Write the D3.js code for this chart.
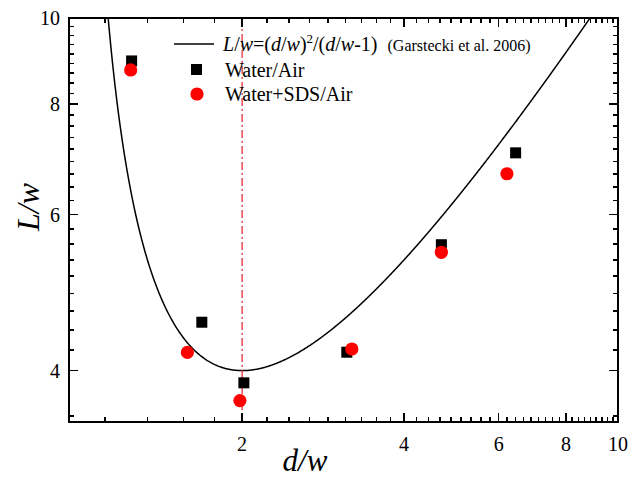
<!DOCTYPE html>
<html>
<head>
<meta charset="utf-8">
<script src="https://cdn.jsdelivr.net/npm/d3@7"></script>
<style>
body{margin:0;background:#fff;}
svg text{font-family:"Liberation Serif","DejaVu Serif",serif;}
</style>
</head>
<body>
<script>
// measured points
var waterX=[1.246,1.683,2.015,3.131,4.694,6.451];
var waterY=[8.944,4.536,3.875,4.196,5.548,7.044];
var sdsX=[1.241,1.582,1.981,3.199,4.694,6.215];
var sdsY=[8.737,4.194,3.700,4.231,5.440,6.672];

var xTicks=[2,4,6,8,10];
var yTicks=[4,6,8,10];
var xDomain=[0.953,10];
var yDomain=[3.5,10];
var critical=2;

var W=641,H=477;
var mLeft=69,mRight=618,mTop=18,mBottom=422;
var serif='"Liberation Serif","DejaVu Serif",serif';

var svg=d3.select('body').append('svg').attr('width',W).attr('height',H);
svg.append('rect').attr('width',W).attr('height',H).attr('fill','#fff');

var x=d3.scaleLog().domain(xDomain).range([mLeft,mRight]);
var y=d3.scaleLog().domain(yDomain).range([mBottom,mTop]);

// minor ticks, 8 between each major (step 2/9)
function minors(majors,dom){
  var out=[];
  var all=[0].concat(majors);
  for(var i=0;i<all.length-1;i++){
    for(var k=1;k<9;k++){
      var v=all[i]+k*(all[i+1]-all[i])/9;
      if(v>dom[0]&&v<dom[1]) out.push(v);
    }
  }
  return out;
}
var xMinor=minors(xTicks,xDomain);
var yMinor=minors(yTicks,yDomain);

svg.append('defs').append('clipPath').attr('id','clip')
.append('rect').attr('x',mLeft).attr('y',mTop).attr('width',mRight-mLeft).attr('height',mBottom-mTop);

// theory curve L/w=(d/w)^2/(d/w-1)
var curveX=d3.range(1.1,10.01,0.01);
var line=d3.line().x(function(d){return x(d);}).y(function(d){return y(d*d/(d-1));});
svg.append('path').datum(curveX)
.attr('d',line)
.attr('fill','none')
.attr('stroke','#000')
.attr('stroke-width',1.5)
.attr('clip-path','url(#clip)');

// dash-dot line at d/w=2
svg.append('line')
.attr('x1',x(critical)).attr('x2',x(critical))
.attr('y1',mTop).attr('y2',mBottom)
.attr('stroke','#e8202a')
.attr('stroke-width',1.2)
.attr('stroke-dasharray','8,3,2,3');

// tick marks, inward on all four sides
var tk=svg.append('g');
function tickLine(x1,y1,x2,y2){
  tk.append('line').attr('x1',x1).attr('y1',y1).attr('x2',x2).attr('y2',y2)
  .attr('stroke','#000').attr('stroke-width',1.6).attr('shape-rendering','crispEdges');
}
xMinor.forEach(function(d){tickLine(x(d),mBottom,x(d),mBottom-5);tickLine(x(d),mTop,x(d),mTop+5);});
xTicks.forEach(function(d){tickLine(x(d),mBottom,x(d),mBottom-9);tickLine(x(d),mTop,x(d),mTop+9);});
yMinor.forEach(function(d){tickLine(mLeft,y(d),mLeft+5,y(d));tickLine(mRight,y(d),mRight-5,y(d));});
yTicks.forEach(function(d){tickLine(mLeft,y(d),mLeft+9,y(d));tickLine(mRight,y(d),mRight-9,y(d));});

// frame
svg.append('rect')
.attr('x',mLeft).attr('y',mTop)
.attr('width',mRight-mLeft).attr('height',mBottom-mTop)
.attr('fill','none').attr('stroke','#000').attr('stroke-width',2)
.attr('shape-rendering','crispEdges');

// tick labels
svg.append('g').selectAll('text').data(xTicks).enter().append('text')
.attr('x',function(d){return x(d);}).attr('y',451)
.attr('text-anchor','middle').attr('font-family',serif).style('font-size','20px')
.text(function(d){return d;});
svg.append('g').selectAll('text').data(yTicks).enter().append('text')
.attr('x',60).attr('y',function(d){return y(d)+7;})
.attr('text-anchor','end').attr('font-family',serif).style('font-size','20px')
.text(function(d){return d;});

// markers
svg.append('g').selectAll('rect').data(waterX).enter().append('rect')
.attr('x',function(d){return x(d)-5.5;})
.attr('y',function(d,i){return y(waterY[i])-5.5;})
.attr('width',11).attr('height',11)
.attr('fill','#000');

svg.append('g').selectAll('circle').data(sdsX).enter().append('circle')
.attr('cx',function(d){return x(d);})
.attr('cy',function(d,i){return y(sdsY[i]);})
.attr('r',6.6)
.attr('fill','#ff0000');

// axis titles
svg.append('text')
.attr('transform','translate(39,207) rotate(-90)')
.attr('text-anchor','middle')
.attr('font-family',serif)
.style('font-size','32px').style('font-style','italic')
.text('L/w');

svg.append('text')
.attr('x',305).attr('y',471)
.attr('text-anchor','middle')
.attr('font-family',serif)
.style('font-size','31px').style('font-style','italic')
.text('d/w');

// legend
var lg=svg.append('g').attr('font-family',serif);
lg.append('line').attr('x1',174).attr('x2',214).attr('y1',44).attr('y2',44)
.attr('stroke','#000').attr('stroke-width',1.5);
var t=lg.append('text').attr('x',223).attr('y',51).style('font-size','20px');
t.append('tspan').style('font-style','italic').text('L');
t.append('tspan').text('/');
t.append('tspan').style('font-style','italic').text('w');
t.append('tspan').text('=(');
t.append('tspan').style('font-style','italic').text('d');
t.append('tspan').text('/');
t.append('tspan').style('font-style','italic').text('w');
t.append('tspan').text(')');
t.append('tspan').attr('dy',-8).style('font-size','13px').text('2');
t.append('tspan').attr('dy',8).text('/(');
t.append('tspan').style('font-style','italic').text('d');
t.append('tspan').text('/');
t.append('tspan').style('font-style','italic').text('w');
t.append('tspan').text('-1)');
t.append('tspan').attr('dx',10).style('font-size','16px').text('(Garstecki et al. 2006)');

lg.append('rect').attr('x',191).attr('y',64).attr('width',11).attr('height',11).attr('fill','#000');
lg.append('text').attr('x',225).attr('y',77).style('font-size','20px').text('Water/Air');
lg.append('circle').attr('cx',197).attr('cy',94).attr('r',6.6).attr('fill','#ff0000');
lg.append('text').attr('x',225).attr('y',101).style('font-size','20px').text('Water+SDS/Air');
</script>
</body>
</html>
